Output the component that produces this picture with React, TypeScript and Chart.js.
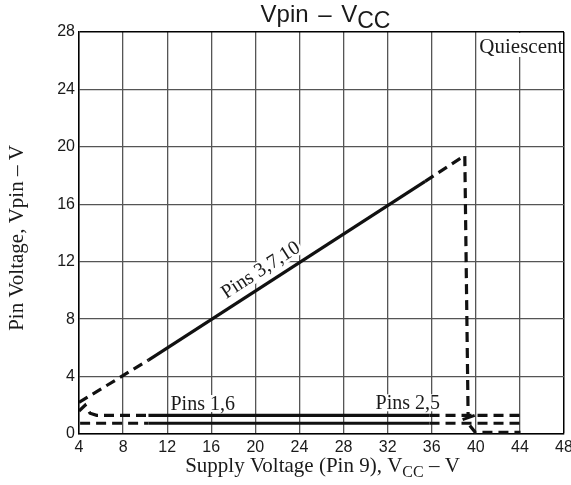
import React, { useEffect, useRef } from 'react';
import { Chart, registerables } from 'chart.js';

Chart.register(...registerables);

// ---- axis ticks ----
const xTickValues = [4, 8, 12, 16, 20, 24, 28, 32, 36, 40, 44, 48];
const yTickValues = [0, 4, 8, 12, 16, 20, 24, 28];

// ---- Pins 3,7,10 (rise, peak, drop) ----
const pins3710X = [4.0, 10.3, 35.4, 39.0, 39.3];
const pins3710Y = [2.2, 5.15, 17.6, 19.4, 1.3];
// ---- Pins 3,7,10 after drop ----
const pins3710LowX = [39.45, 39.95, 44.05];
const pins3710LowY = [0.6, 0.12, 0.12];
// ---- upper horizontal trace ----
const upperX = [4.0, 4.55, 5.0, 5.6, 10.3, 35.8, 44.4];
const upperY = [1.6, 2.0, 1.45, 1.3, 1.3, 1.3, 1.3];
// ---- lower horizontal trace ----
const lowerX = [4.1, 10.3, 35.8, 44.4];
const lowerY = [0.75, 0.75, 0.75, 0.75];
// ---- small transition stroke near 39 V ----
const stepX = [38.8, 39.9];
const stepY = [1.0, 1.3];

// solid (measured) range of the traces
const solidFrom = 10.2;
const solidTo = 35.9;

// label anchors (data coordinates)
const label3710AtX = 21.2;
const label16 = { x: 12.3, y: 1.67 };
const label25 = { x: 30.9, y: 1.72 };

const toPoints = (xs: number[], ys: number[]) => xs.map((x, i) => ({ x, y: ys[i] }));

const DASH = [10, 6];
const LINE_COLOR = '#111';
const TEXT_COLOR = '#1a1a1a';
const SERIF = '"Liberation Serif", "Times New Roman", serif';
const SANS = '"Liberation Sans", Arial, sans-serif';

const segDash = (ctx: any) =>
  ctx.p0.parsed.x >= solidFrom && ctx.p1.parsed.x <= solidTo && ctx.p1.parsed.x > ctx.p0.parsed.x
    ? []
    : DASH;

function interp(xs: number[], ys: number[], x: number) {
  for (let i = 0; i < xs.length - 1; i++) {
    if (x >= xs[i] && x <= xs[i + 1]) {
      const t = (x - xs[i]) / (xs[i + 1] - xs[i]);
      return ys[i] + t * (ys[i + 1] - ys[i]);
    }
  }
  return ys[0];
}

const labelsPlugin = {
  id: 'labelsPlugin',
  beforeDatasetsDraw(chart: any) {
    const { ctx, scales } = chart;
    const xs = scales.x;
    const ys = scales.y;
    const area = chart.chartArea;
    ctx.save();

    // Quiescent box (top right)
    ctx.font = `21px ${SERIF}`;
    const qx = xs.getPixelForValue(40) + 1.5;
    ctx.fillStyle = '#fff';
    ctx.fillRect(qx, area.top + 1, area.right - 1 - qx, 24);
    ctx.fillStyle = TEXT_COLOR;
    ctx.textAlign = 'left';
    ctx.textBaseline = 'alphabetic';
    ctx.fillText('Quiescent', qx + 2, area.top + 21);

    // Pins 1,6 and Pins 2,5
    ctx.font = `20px ${SERIF}`;
    for (const [txt, pos] of [
      ['Pins 1,6', label16],
      ['Pins 2,5', label25],
    ] as [string, { x: number; y: number }][]) {
      const px = xs.getPixelForValue(pos.x);
      const py = ys.getPixelForValue(pos.y);
      const w = ctx.measureText(txt).width;
      ctx.fillStyle = '#fff';
      ctx.fillRect(px - 1, py - 15, w + 2, 17);
      ctx.fillStyle = TEXT_COLOR;
      ctx.fillText(txt, px, py);
    }

    // Pins 3,7,10 along the diagonal
    const ax = xs.getPixelForValue(label3710AtX);
    const ay = ys.getPixelForValue(interp(pins3710X, pins3710Y, label3710AtX));
    const x0 = xs.getPixelForValue(pins3710X[1]);
    const y0 = ys.getPixelForValue(pins3710Y[1]);
    const x1 = xs.getPixelForValue(pins3710X[2]);
    const y1 = ys.getPixelForValue(pins3710Y[2]);
    const ang = Math.atan2(y1 - y0, x1 - x0);
    ctx.translate(ax, ay);
    ctx.rotate(ang);
    const t = 'Pins 3,7,10';
    const tw = ctx.measureText(t).width;
    ctx.fillStyle = '#fff';
    ctx.fillRect(-tw / 2 - 2, -9 - 15, tw + 4, 18);
    ctx.fillStyle = TEXT_COLOR;
    ctx.textAlign = 'center';
    ctx.fillText(t, 0, -9);
    ctx.restore();
  },
  afterDraw(chart: any) {
    const { ctx } = chart;
    const area = chart.chartArea;
    const cx = (area.left + area.right) / 2;
    ctx.save();
    ctx.fillStyle = TEXT_COLOR;
    ctx.textBaseline = 'alphabetic';
    ctx.textAlign = 'left';

    // Title: Vpin – VCC
    ctx.font = `24px ${SANS}`;
    const wv = ctx.measureText('Vpin ').width;
    const wd = ctx.measureText('–').width;
    const wV = ctx.measureText(' V').width;
    const w1 = wv + wd + wV + 6;
    ctx.font = `23px ${SANS}`;
    const w2 = ctx.measureText('CC').width;
    const sx0 = cx + 4 - (w1 + w2) / 2;
    ctx.font = `24px ${SANS}`;
    ctx.fillText('Vpin ', sx0, 22);
    ctx.fillText('–', sx0 + wv + 3, 22);
    ctx.fillText(' V', sx0 + wv + wd + 6, 22);
    ctx.font = `23px ${SANS}`;
    ctx.fillText('CC', sx0 + w1, 28);

    // X axis title
    const a = 'Supply Voltage (Pin 9), V';
    const b = 'CC';
    const c = ' – V';
    ctx.font = `21px ${SERIF}`;
    const wa = ctx.measureText(a).width;
    const wc = ctx.measureText(c).width;
    ctx.font = `16px ${SERIF}`;
    const wb = ctx.measureText(b).width;
    const sx = cx + 1 - (wa + wb + wc) / 2;
    const by = 472;
    ctx.font = `21px ${SERIF}`;
    ctx.fillText(a, sx, by);
    ctx.font = `16px ${SERIF}`;
    ctx.fillText(b, sx + wa, by + 5);
    ctx.font = `21px ${SERIF}`;
    ctx.fillText(c, sx + wa + wb, by);

    // Y axis title
    ctx.translate(23, (area.top + area.bottom) / 2 + 5);
    ctx.rotate(-Math.PI / 2);
    ctx.textAlign = 'center';
    ctx.font = `21px ${SERIF}`;
    ctx.fillText('Pin Voltage, Vpin – V', 0, 0);
    ctx.restore();
  },
};

function ds(xs: number[], ys: number[], opts: any = {}) {
  return {
    data: toPoints(xs, ys),
    borderColor: LINE_COLOR,
    borderWidth: 3.2,
    pointRadius: 0,
    fill: false,
    tension: 0,
    ...opts,
  };
}

export default function App() {
  const ref = useRef<HTMLCanvasElement | null>(null);

  useEffect(() => {
    if (!ref.current) return;
    const gridColorFor = (max: number) => (ctx: any) =>
      ctx.tick?.value === max ? '#000' : '#555';
    const gridWidthFor = (max: number) => (ctx: any) =>
      ctx.tick?.value === max ? 1.5 : 1.3;
    const chart = new Chart(ref.current, {
      type: 'line',
      data: {
        datasets: [
          ds(pins3710X, pins3710Y, { segment: { borderDash: segDash } }),
          ds(pins3710LowX, pins3710LowY, { borderDash: DASH }),
          ds(upperX, upperY, { segment: { borderDash: segDash } }),
          ds(lowerX, lowerY, { segment: { borderDash: segDash } }),
          ds(stepX, stepY, { borderWidth: 3 }),
        ],
      },
      options: {
        responsive: false,
        animation: false,
        devicePixelRatio: 1,
        layout: { padding: { left: 0, right: 36, top: 32, bottom: 0 } },
        plugins: {
          legend: { display: false },
          tooltip: { enabled: false },
          title: { display: false },
        },
        scales: {
          x: {
            type: 'linear',
            min: 4,
            max: 48,
            afterBuildTicks: (s: any) => {
              s.ticks = xTickValues.map((v) => ({ value: v }));
            },
            afterFit: (s: any) => {
              s.height = 51;
            },
            ticks: {
              autoSkip: false,
              maxRotation: 0,
              padding: 4,
              color: TEXT_COLOR,
              font: { family: SANS, size: 16 },
            },
            grid: { color: gridColorFor(48), lineWidth: gridWidthFor(48), drawTicks: false },
            border: { color: '#000', width: 1.5 },
          },
          y: {
            type: 'linear',
            min: 0,
            max: 28,
            afterBuildTicks: (s: any) => {
              s.ticks = yTickValues.map((v) => ({ value: v }));
            },
            afterFit: (s: any) => {
              s.width = 79;
            },
            ticks: {
              autoSkip: false,
              padding: 4,
              color: TEXT_COLOR,
              font: { family: SANS, size: 16 },
            },
            grid: { color: gridColorFor(28), lineWidth: gridWidthFor(28), drawTicks: false },
            border: { color: '#000', width: 1.5 },
          },
        },
      } as any,
      plugins: [labelsPlugin],
    });
    return () => chart.destroy();
  }, []);

  return (
    <div
      style={{
        position: 'fixed',
        left: 0,
        top: 0,
        width: 571,
        height: 485,
        overflow: 'hidden',
        background: '#fff',
      }}
    >
      <canvas ref={ref} width={600} height={485} style={{ display: 'block' }} />
    </div>
  );
}
